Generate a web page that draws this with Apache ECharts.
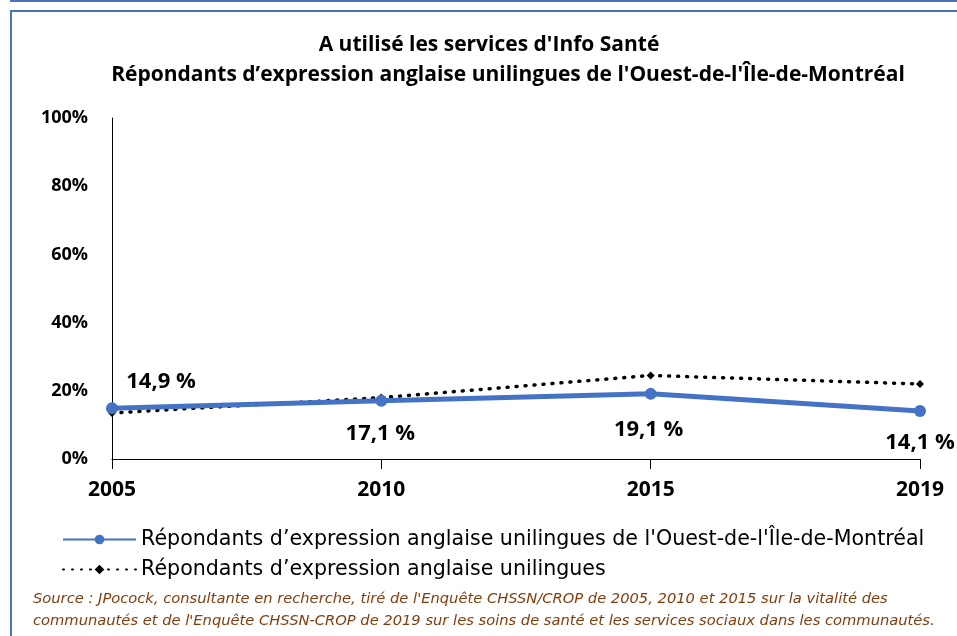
<!DOCTYPE html>
<html>
<head>
<meta charset="utf-8">
<script src="https://cdn.jsdelivr.net/npm/echarts@6/dist/echarts.min.js"></script>
<style>
  html, body { margin: 0; padding: 0; background: #fff; }
  #wrap { position: relative; width: 957px; height: 636px; overflow: hidden; }
  #chart { position: absolute; left: 0; top: 0; width: 957px; height: 636px; }
  .topline { position: absolute; left: 10px; right: 0; top: 0; height: 2px; background: #4a72b8; }
  .frame { position: absolute; left: 10px; top: 10px; right: -5px; bottom: -5px;
           border-top: 2px solid #4a72b8; border-left: 2px solid #4a72b8; }
</style>
</head>
<body>
<div id="wrap">
  <div id="chart"></div>
  <div class="topline"></div>
  <div class="frame"></div>
</div>
<script>
// données
const years = ['2005', '2010', '2015', '2019']
const ouestValues = [14.9, 17.1, 19.1, 14.1]
const unilinguesValues = [13.5, 18, 24.5, 22]
const ouestLabels = ['14,9 %', '17,1 %', '19,1 %', '14,1 %']
const yTicks = [0, 20, 40, 60, 80, 100]

const titleLines = [
  "A utilisé les services d'Info Santé",
  "Répondants d\u2019expression anglaise unilingues de l'Ouest-de-l'Île-de-Montréal"
]
const seriesNames = [
  "Répondants d\u2019expression anglaise unilingues de l'Ouest-de-l'Île-de-Montréal",
  "Répondants d\u2019expression anglaise unilingues"
]
const sourceLines = [
  "Source : JPocock, consultante en recherche, tiré de l'Enquête CHSSN/CROP de 2005, 2010 et 2015 sur la vitalité des",
  "communautés et de l'Enquête CHSSN-CROP de 2019 sur les soins de santé et les services sociaux dans les communautés."
]

// position des étiquettes de données
const labelPlacement = [
  { position: 'top', offset: [49, -4] },
  { position: 'bottom', offset: [-1, 11] },
  { position: 'bottom', offset: [-2, 14] },
  { position: 'bottom', offset: [0, 10] }
]
// centres des lignes du titre
const titleCenters = [[489, 45], [508, 75]]

const font = '"Open Sans", "Noto Sans", sans-serif'
const wideFont = '"DejaVu Sans", sans-serif'
const chart = echarts.init(document.getElementById('chart'))

const titleGraphics = titleLines.map((t, i) => ({
  type: 'text',
  x: titleCenters[i][0],
  y: titleCenters[i][1],
  style: { text: t, fontFamily: font, fontSize: 21, fontWeight: 'bold', fill: '#000',
           align: 'center', verticalAlign: 'middle' }
}))

const sourceGraphics = sourceLines.map((t, i) => ({
  type: 'text',
  left: 33,
  top: 592 + i * 22,
  style: { text: t, fontFamily: wideFont, fontSize: 14.7, fontStyle: 'italic', fill: '#843C0C' }
}))

const option = {
  animation: false,
  grid: { left: 112, right: 37, top: 118, bottom: 177 },
  legend: {
    orient: 'vertical',
    left: 57,
    top: 524,
    itemWidth: 73,
    itemHeight: 12,
    itemGap: 9,
    data: seriesNames,
    textStyle: { fontFamily: wideFont, fontSize: 20.6, color: '#000' }
  },
  xAxis: {
    type: 'category',
    data: years,
    boundaryGap: false,
    axisLine: { lineStyle: { color: '#000', width: 1 } },
    axisTick: { show: true, alignWithLabel: true, length: 10, lineStyle: { color: '#000' } },
    axisLabel: { fontFamily: font, fontSize: 21, fontWeight: 'bold', color: '#000', margin: 21 },
    splitLine: { show: false }
  },
  yAxis: {
    type: 'value',
    min: 0,
    max: 100,
    interval: 20,
    axisLine: { show: true, lineStyle: { color: '#000', width: 1 } },
    axisTick: { show: false },
    splitLine: { show: false },
    axisLabel: { fontFamily: font, fontSize: 18, fontWeight: 'bold', color: '#000', margin: 24,
                 formatter: v => yTicks.includes(v) ? v + '%' : '' }
  },
  series: [
    {
      name: seriesNames[1],
      type: 'line',
      data: unilinguesValues,
      z: 2,
      symbol: 'diamond',
      symbolSize: 8,
      itemStyle: { color: '#000' },
      lineStyle: { color: '#000', width: 3.5, type: [1, 8], cap: 'round' }
    },
    {
      name: seriesNames[0],
      type: 'line',
      data: ouestValues.map((v, i) => ({
        value: v,
        label: {
          show: true,
          position: labelPlacement[i].position,
          offset: labelPlacement[i].offset,
          formatter: () => ouestLabels[i]
        }
      })),
      z: 3,
      symbol: 'circle',
      symbolSize: 12,
      itemStyle: { color: '#4472C4' },
      lineStyle: { color: '#4472C4', width: 5 },
      label: { fontFamily: font, fontSize: 22, fontWeight: 'bold', color: '#000' }
    }
  ],
  graphic: titleGraphics.concat(sourceGraphics)
}

chart.setOption(option)
</script>
</body>
</html>
